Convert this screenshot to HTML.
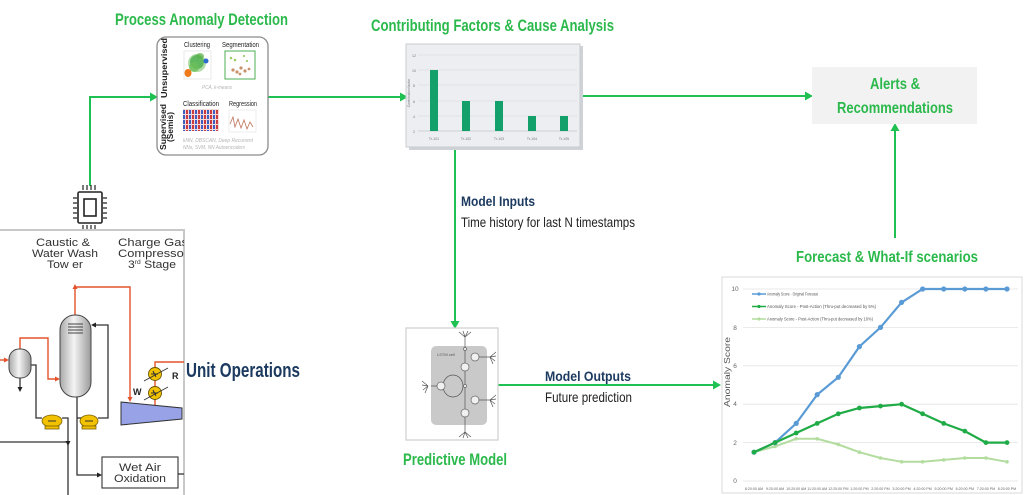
<!DOCTYPE html>
<html><head><meta charset="utf-8"><style>
html,body{margin:0;padding:0;background:#fff;}
svg{display:block;}
.g{font-family:"Liberation Sans Narrow","Liberation Sans",sans-serif;font-weight:bold;fill:#2bb94c;}
.n{font-family:"Liberation Sans Narrow","Liberation Sans",sans-serif;font-weight:bold;fill:#1c3a60;}
.t{font-family:"Liberation Sans Narrow","Liberation Sans",sans-serif;fill:#222;}
.s{font-family:"Liberation Sans",sans-serif;}
</style></head><body>
<svg width="1024" height="495" viewBox="0 0 1024 495" xmlns="http://www.w3.org/2000/svg">
<defs>
<linearGradient id="vess" x1="0" x2="1" y1="0" y2="0">
<stop offset="0" stop-color="#a9a9a9"/><stop offset="0.45" stop-color="#f4f4f4"/><stop offset="1" stop-color="#9a9a9a"/>
</linearGradient>
<pattern id="cls" width="6" height="5" patternUnits="userSpaceOnUse">
<rect width="6" height="5" fill="#f2dada"/>
<rect x="0" y="0" width="2" height="4" fill="#cc3b3b"/>
<rect x="3" y="0" width="2" height="4" fill="#3d5fc4"/>
</pattern>
<clipPath id="uo"><rect x="0" y="230" width="184" height="265"/></clipPath>
</defs>

<!-- ===== Titles ===== -->
<text class="g" x="115" y="25" font-size="17" textLength="173" lengthAdjust="spacingAndGlyphs">Process Anomaly  Detection</text>
<text class="g" x="371" y="31" font-size="17" textLength="243" lengthAdjust="spacingAndGlyphs">Contributing  Factors &amp; Cause Analysis</text>
<text class="g" x="796" y="262" font-size="16" textLength="182" lengthAdjust="spacingAndGlyphs">Forecast &amp; What-If scenarios</text>
<text class="g" x="403" y="465" font-size="17" textLength="104" lengthAdjust="spacingAndGlyphs">Predictive Model</text>

<!-- ===== Connectors ===== -->
<g stroke="#1ec152" stroke-width="2" fill="none">
<path d="M90,186 V97 H151"/>
<path d="M268,97 H401"/>
<path d="M580,96 H806"/>
<path d="M455,148 V322"/>
<path d="M895,238 V130"/>
<path d="M498,385 H714"/>
</g>
<g fill="#1ec152">
<polygon points="158,97 150,92.5 150,101.5"/>
<polygon points="408,97 400,92.5 400,101.5"/>
<polygon points="813,96 805,91.5 805,100.5"/>
<polygon points="455,329 450.5,321 459.5,321"/>
<polygon points="895,123 890.5,131 899.5,131"/>
<polygon points="721,385 713,380.5 713,389.5"/>
</g>

<!-- ===== Process Anomaly Detection box ===== -->
<rect x="157" y="37" width="111" height="118" rx="9" fill="#fff" stroke="#8c8c8c" stroke-width="1.3"/>
<g class="s" font-weight="bold" font-size="8" fill="#222">
<text transform="translate(167,68) rotate(-90)" text-anchor="middle" textLength="60" lengthAdjust="spacingAndGlyphs">Unsupervised</text>
<text transform="translate(166,127) rotate(-90)" text-anchor="middle" textLength="46" lengthAdjust="spacingAndGlyphs">Supervised</text>
<text transform="translate(173,127) rotate(-90)" text-anchor="middle" textLength="30" lengthAdjust="spacingAndGlyphs">(Semis)</text>
</g>
<g class="t" font-size="7">
<text x="184" y="47" textLength="26" lengthAdjust="spacingAndGlyphs">Clustering</text>
<text x="222" y="47" textLength="37" lengthAdjust="spacingAndGlyphs">Segmentation</text>
<text x="183" y="106" textLength="36" lengthAdjust="spacingAndGlyphs">Classification</text>
<text x="229" y="106" textLength="28" lengthAdjust="spacingAndGlyphs">Regression</text>
</g>
<g class="s" font-style="italic" fill="#b4b4b4" font-size="5.5">
<text x="202" y="89" textLength="30" lengthAdjust="spacingAndGlyphs">PCA, k-means</text>
<text x="183" y="142" textLength="70" lengthAdjust="spacingAndGlyphs">kNN, DBSCAN, Deep Recurrent</text>
<text x="183" y="149" textLength="62" lengthAdjust="spacingAndGlyphs">NNs, SVM, NN Autoencoders</text>
</g>
<!-- clustering image -->
<rect x="184" y="51" width="27" height="28" fill="#fff" stroke="#ddd" stroke-width="0.6"/>
<ellipse cx="197" cy="63" rx="9" ry="9" fill="#7cc46a" opacity="0.6"/>
<ellipse cx="197" cy="62" rx="7" ry="7" fill="#4caf50" opacity="0.8"/>
<ellipse cx="194" cy="67" rx="5" ry="5" fill="#6cbf5a" opacity="0.8"/>
<ellipse cx="200" cy="56" rx="4" ry="3" fill="#5bb04a" opacity="0.7"/>
<ellipse cx="188" cy="73" rx="3.5" ry="4" fill="#f07a1a"/>
<ellipse cx="206" cy="61" rx="2.5" ry="2.5" fill="#2c6ad0"/>
<!-- segmentation image -->
<rect x="225" y="51" width="30" height="28" fill="#fff" stroke="#4caf50" stroke-width="1"/>
<g fill="#c9926a">
<circle cx="233" cy="70" r="1.6"/><circle cx="237" cy="72" r="1.6"/><circle cx="241" cy="68" r="1.6"/><circle cx="245" cy="71" r="1.6"/><circle cx="249" cy="69" r="1.4"/><circle cx="240" cy="74" r="1.4"/>
</g>
<g fill="#9ccc65"><circle cx="231" cy="58" r="1.3"/><circle cx="235" cy="60" r="1.3"/><circle cx="244" cy="56" r="1.1"/><circle cx="247" cy="61" r="1.1"/></g>
<!-- classification -->
<rect x="183" y="109" width="36" height="22" fill="url(#cls)"/>
<!-- regression -->
<rect x="229" y="110" width="27" height="22" fill="#fff" stroke="#e2e2e2" stroke-width="0.6"/>
<polyline points="230,124 233,117 235,127 238,119 241,128 244,120 247,129 250,122 253,127" fill="none" stroke="#c0735a" stroke-width="0.8"/>

<!-- ===== Chip icon ===== -->
<g stroke="#222" fill="none">
<rect x="78" y="192" width="24" height="31" rx="1.5" stroke-width="1.6"/>
<rect x="84" y="199" width="12" height="17" stroke-width="1.6"/>
<g stroke-width="1.2">
<path d="M83,185V190M87,185V190M91,185V190M95,185V190"/>
<path d="M83,225V230M87,225V230M91,225V230M95,225V230"/>
<path d="M73,198H77M73,203H77M73,208H77M73,213H77M73,218H77"/>
<path d="M103,198H107M103,203H107M103,208H107M103,213H107M103,218H107"/>
</g>
</g>

<!-- ===== Unit Operations ===== -->
<rect x="-2" y="230" width="186" height="270" fill="#fff" stroke="#c8c8c8" stroke-width="2"/>
<g clip-path="url(#uo)">
<g class="s" fill="#333" font-size="11">
<text x="63" y="246" text-anchor="middle" textLength="54" lengthAdjust="spacingAndGlyphs">Caustic &amp;</text>
<text x="65" y="257" text-anchor="middle" textLength="66" lengthAdjust="spacingAndGlyphs">Water Wash</text>
<text x="65" y="268" text-anchor="middle" textLength="36" lengthAdjust="spacingAndGlyphs">Tow er</text>
<text x="118" y="246" textLength="70" lengthAdjust="spacingAndGlyphs">Charge Gas</text>
<text x="118" y="257" textLength="70" lengthAdjust="spacingAndGlyphs">Compressor</text>
<text x="128" y="268" textLength="48" lengthAdjust="spacingAndGlyphs">3<tspan font-size="6" dy="-4">rd</tspan><tspan dy="4"> Stage</tspan></text>
</g>
<!-- red lines -->
<g stroke="#e4532c" stroke-width="1.4" fill="none">
<path d="M75,315V287H130V398"/>
<path d="M-2,360H6"/>
<path d="M20,349V338H48V379H56"/>
<path d="M155,406V362H186"/>
</g>
<g fill="#e4532c">
<polygon points="75,284 72.5,289 77.5,289"/>
<polygon points="130,402 127.5,397 132.5,397"/>
<polygon points="9,360 4,357.5 4,362.5"/>
<polygon points="60,379 55,376.5 55,381.5"/>
</g>
<!-- black lines -->
<g stroke="#333" stroke-width="1.3" fill="none">
<path d="M20,378V388"/>
<path d="M31,365H36V418H42"/>
<path d="M62,418H68V500"/>
<path d="M-2,442H68"/>
<path d="M77,397V475H98"/>
<path d="M77,418H82"/>
<path d="M98,418H108V325H95"/>
<path d="M178,474H186"/>
</g>
<g fill="#222">
<polygon points="20,392 17.5,387 22.5,387"/>
<polygon points="68,446 65.5,441 70.5,441"/>
<polygon points="102,475 97,472.5 97,477.5"/>
<polygon points="91,325 96,322.5 96,327.5"/>
</g>
<!-- drum -->
<rect x="9" y="349" width="22" height="29" rx="10" fill="url(#vess)" stroke="#444" stroke-width="1"/>
<!-- tower -->
<rect x="60" y="315" width="31" height="82" rx="15" fill="url(#vess)" stroke="#444" stroke-width="1"/>
<g stroke="#444" stroke-width="1"><path d="M68,324H83M68,327H83M68,330H83M68,333H83"/></g>
<!-- pumps -->
<g stroke="#7a6000" stroke-width="0.8" fill="#f2c200">
<ellipse cx="52" cy="421" rx="10" ry="6"/>
<ellipse cx="89" cy="421" rx="9" ry="6"/>
<rect x="45" y="426" width="14" height="3"/>
<rect x="82" y="426" width="14" height="3"/>
</g>
<path d="M48,421H56M85,421H93" stroke="#333" stroke-width="1"/>
<!-- compressor -->
<polygon points="121,402 182,408 182,419 121,425" fill="#97a3e6" stroke="#333" stroke-width="1"/>
<!-- exchangers -->
<g stroke="#6a5500" stroke-width="0.9" fill="#f2c200">
<circle cx="155" cy="374" r="6.5"/>
<circle cx="155" cy="393" r="6.5"/>
</g>
<g stroke="#333" stroke-width="0.9" fill="none">
<path d="M151,374h3l-1,-3 3,6 -1,-3h3"/>
<path d="M151,393h3l-1,-3 3,6 -1,-3h3"/>
<path d="M144,381L168,368M144,400L168,387"/>
</g>
<g class="s" font-weight="bold" font-size="9" fill="#222">
<text x="133" y="395">W</text>
<text x="172" y="379">R</text>
</g>
<!-- wet air oxidation -->
<rect x="102" y="457" width="76" height="31" fill="#fff" stroke="#333" stroke-width="1.1"/>
<g class="s" fill="#333" font-size="11">
<text x="140" y="471" text-anchor="middle" textLength="42" lengthAdjust="spacingAndGlyphs">Wet Air</text>
<text x="140" y="482" text-anchor="middle" textLength="52" lengthAdjust="spacingAndGlyphs">Oxidation</text>
</g>
</g>
<text class="n" x="186" y="377" font-size="20" textLength="114" lengthAdjust="spacingAndGlyphs">Unit Operations</text>

<!-- ===== Bar chart ===== -->
<rect x="409" y="46" width="174" height="104" fill="#cfd2d6"/>
<rect x="406" y="44" width="174" height="103" fill="#eceef1" stroke="#c9ccd0" stroke-width="1"/>
<g stroke="#dde0e4" stroke-width="0.8">
<path d="M418,55H577M418,70H577M418,85H577M418,101H577M418,116H577"/>
</g>
<path d="M418,131H577" stroke="#c4c7cb" stroke-width="0.8"/>
<g class="s" font-size="3.5" fill="#777" text-anchor="middle">
<text x="414" y="57">12</text><text x="414" y="72">10</text><text x="414" y="87">8</text><text x="414" y="103">6</text><text x="414" y="118">4</text><text x="414" y="133">2</text>
<text x="434" y="140">Tr-101</text><text x="466" y="140">Tr-102</text><text x="499" y="140">Tr-103</text><text x="532" y="140">Tr-104</text><text x="564" y="140">Tr-105</text>
<text transform="translate(410,93) rotate(-90)">Contribution factor</text>
</g>
<g fill="#13a06b">
<rect x="430" y="70" width="8" height="61"/>
<rect x="462" y="101" width="8" height="30"/>
<rect x="495" y="101" width="8" height="30"/>
<rect x="528" y="116" width="8" height="15"/>
<rect x="560" y="116" width="8" height="15"/>
</g>

<!-- ===== Alerts box ===== -->
<rect x="812" y="67" width="165" height="57" fill="#f2f2f2"/>
<text class="g" x="870" y="89" font-size="16" textLength="50" lengthAdjust="spacingAndGlyphs">Alerts &amp;</text>
<text class="g" x="837" y="113" font-size="16" textLength="116" lengthAdjust="spacingAndGlyphs">Recommendations</text>

<!-- ===== Model inputs / outputs text ===== -->
<text class="n" x="461" y="206" font-size="14" textLength="74" lengthAdjust="spacingAndGlyphs">Model Inputs</text>
<text class="t" x="461" y="227" font-size="14" textLength="174" lengthAdjust="spacingAndGlyphs">Time history  for last N timestamps</text>
<text class="n" x="545" y="381" font-size="14" textLength="86" lengthAdjust="spacingAndGlyphs">Model Outputs</text>
<text class="t" x="545" y="402" font-size="14" textLength="87" lengthAdjust="spacingAndGlyphs">Future  prediction</text>

<!-- ===== Predictive model box ===== -->
<rect x="406" y="328" width="92" height="112" fill="#fff" stroke="#cfcfcf" stroke-width="1.2"/>
<rect x="431" y="346" width="56" height="79" rx="5" fill="#c9c9c9"/>
<text class="s" x="437" y="356" font-size="4" fill="#555">LSTM cell</text>
<g stroke="#555" stroke-width="0.7" fill="none">
<path d="M465,337V432"/>
<ellipse cx="453" cy="386" rx="10" ry="11"/>
<path d="M441,386H431M475,357H490M475,400H490"/>
<path d="M465,337l-6,-5M465,337l-2,-6M465,337l3,-6M465,337l6,-5"/>
<path d="M465,432l-6,5M465,432l-2,6M465,432l3,6M465,432l6,5"/>
<path d="M490,357l6,-5M490,357l6,-1M490,357l5,4M490,357l3,7"/>
<path d="M490,400l6,-5M490,400l6,-1M490,400l5,4M490,400l3,7"/>
<path d="M428,386l-6,-5M428,386l-6,-1M428,386l-5,4M428,386l-3,7"/>
</g>
<g fill="#f0f0f0" stroke="#666" stroke-width="0.7">
<circle cx="465" cy="367" r="4"/><circle cx="465" cy="413" r="4"/>
<circle cx="475" cy="357" r="4"/><circle cx="475" cy="400" r="4"/>
<circle cx="441" cy="386" r="4"/>
<circle cx="465" cy="386" r="1.5"/><circle cx="465" cy="349" r="1.5"/>
</g>

<!-- ===== Forecast chart ===== -->
<rect x="722" y="277" width="300" height="216" fill="#fff" stroke="#d9d9d9" stroke-width="1"/>
<g stroke="#e3e3e3" stroke-width="0.8">
<path d="M743,481H1018M743,442.6H1018M743,404.2H1018M743,365.8H1018M743,327.4H1018M743,289H1018"/>
</g>
<g class="s" font-size="6.5" fill="#666" text-anchor="middle">
<text x="735" y="483">0</text><text x="735" y="445">2</text><text x="735" y="406">4</text><text x="735" y="368">6</text><text x="735" y="330">8</text><text x="735" y="291">10</text>
</g>
<text class="s" transform="translate(730,372) rotate(-90)" font-size="8" fill="#555" text-anchor="middle" textLength="70" lengthAdjust="spacingAndGlyphs">Anomaly Score</text>
<g class="s" font-size="3.6" fill="#666" text-anchor="middle">
<text x="754" y="490">8:20:00 AM</text><text x="775.1" y="490">9:20:00 AM</text><text x="796.2" y="490">10:20:00 AM</text><text x="817.2" y="490">11:20:00 AM</text><text x="838.3" y="490">12:20:00 PM</text><text x="859.4" y="490">1:20:00 PM</text><text x="880.5" y="490">2:20:00 PM</text><text x="901.6" y="490">3:20:00 PM</text><text x="922.6" y="490">4:20:00 PM</text><text x="943.7" y="490">5:20:00 PM</text><text x="964.8" y="490">6:20:00 PM</text><text x="985.9" y="490">7:20:00 PM</text><text x="1007" y="490">8:20:00 PM</text>
</g>
<!-- legend -->
<g stroke-width="1.5">
<path d="M752,294H766" stroke="#5b9bd5"/><circle cx="759" cy="294" r="1.6" fill="#5b9bd5"/>
<path d="M752,306.5H766" stroke="#1fab45"/><circle cx="759" cy="306.5" r="1.6" fill="#1fab45"/>
<path d="M752,319H766" stroke="#b3dc9f"/><circle cx="759" cy="319" r="1.6" fill="#b3dc9f"/>
</g>
<g class="s" font-size="4.2" fill="#555">
<text x="767" y="295.5" textLength="51" lengthAdjust="spacingAndGlyphs">Anomaly Score - Original Forecast</text>
<text x="767" y="308" textLength="109" lengthAdjust="spacingAndGlyphs">Anomaly Score - Post-Action (Thru-put decreased by 5%)</text>
<text x="767" y="320.5" textLength="106" lengthAdjust="spacingAndGlyphs">Anomaly Score - Post-Action (Thru-put decreased by 10%)</text>
</g>
<!-- series -->
<polyline fill="none" stroke="#b3dc9f" stroke-width="2" points="754,452.2 775.1,446.4 796.2,438.8 817.2,438.8 838.3,444.5 859.4,452.2 880.5,458 901.6,461.8 922.6,461.8 943.7,459.9 964.8,458 985.9,458 1007,461.8"/>
<g fill="#b3dc9f"><circle cx="754" cy="452.2" r="1.8"/><circle cx="775.1" cy="446.4" r="1.8"/><circle cx="796.2" cy="438.8" r="1.8"/><circle cx="817.2" cy="438.8" r="1.8"/><circle cx="838.3" cy="444.5" r="1.8"/><circle cx="859.4" cy="452.2" r="1.8"/><circle cx="880.5" cy="458" r="1.8"/><circle cx="901.6" cy="461.8" r="1.8"/><circle cx="922.6" cy="461.8" r="1.8"/><circle cx="943.7" cy="459.9" r="1.8"/><circle cx="964.8" cy="458" r="1.8"/><circle cx="985.9" cy="458" r="1.8"/><circle cx="1007" cy="461.8" r="1.8"/></g>
<polyline fill="none" stroke="#5b9bd5" stroke-width="2.2" points="754,452.2 775.1,442.6 796.2,423.4 817.2,394.6 838.3,377.3 859.4,346.6 880.5,327.4 901.6,302.4 922.6,289 943.7,289 964.8,289 985.9,289 1007,289"/>
<g fill="#5b9bd5"><circle cx="754" cy="452.2" r="2.6"/><circle cx="775.1" cy="442.6" r="2.6"/><circle cx="796.2" cy="423.4" r="2.6"/><circle cx="817.2" cy="394.6" r="2.6"/><circle cx="838.3" cy="377.3" r="2.6"/><circle cx="859.4" cy="346.6" r="2.6"/><circle cx="880.5" cy="327.4" r="2.6"/><circle cx="901.6" cy="302.4" r="2.6"/><circle cx="922.6" cy="289" r="2.6"/><circle cx="943.7" cy="289" r="2.6"/><circle cx="964.8" cy="289" r="2.6"/><circle cx="985.9" cy="289" r="2.6"/><circle cx="1007" cy="289" r="2.6"/></g>
<polyline fill="none" stroke="#1fab45" stroke-width="2.2" points="754,452.2 775.1,442.6 796.2,433 817.2,423.4 838.3,413.8 859.4,408 880.5,406.1 901.6,404.2 922.6,413.8 943.7,423.4 964.8,431.1 985.9,442.6 1007,442.6"/>
<g fill="#1fab45"><circle cx="754" cy="452.2" r="2.4"/><circle cx="775.1" cy="442.6" r="2.4"/><circle cx="796.2" cy="433" r="2.4"/><circle cx="817.2" cy="423.4" r="2.4"/><circle cx="838.3" cy="413.8" r="2.4"/><circle cx="859.4" cy="408" r="2.4"/><circle cx="880.5" cy="406.1" r="2.4"/><circle cx="901.6" cy="404.2" r="2.4"/><circle cx="922.6" cy="413.8" r="2.4"/><circle cx="943.7" cy="423.4" r="2.4"/><circle cx="964.8" cy="431.1" r="2.4"/><circle cx="985.9" cy="442.6" r="2.4"/><circle cx="1007" cy="442.6" r="2.4"/></g>
</svg>
</body></html>
